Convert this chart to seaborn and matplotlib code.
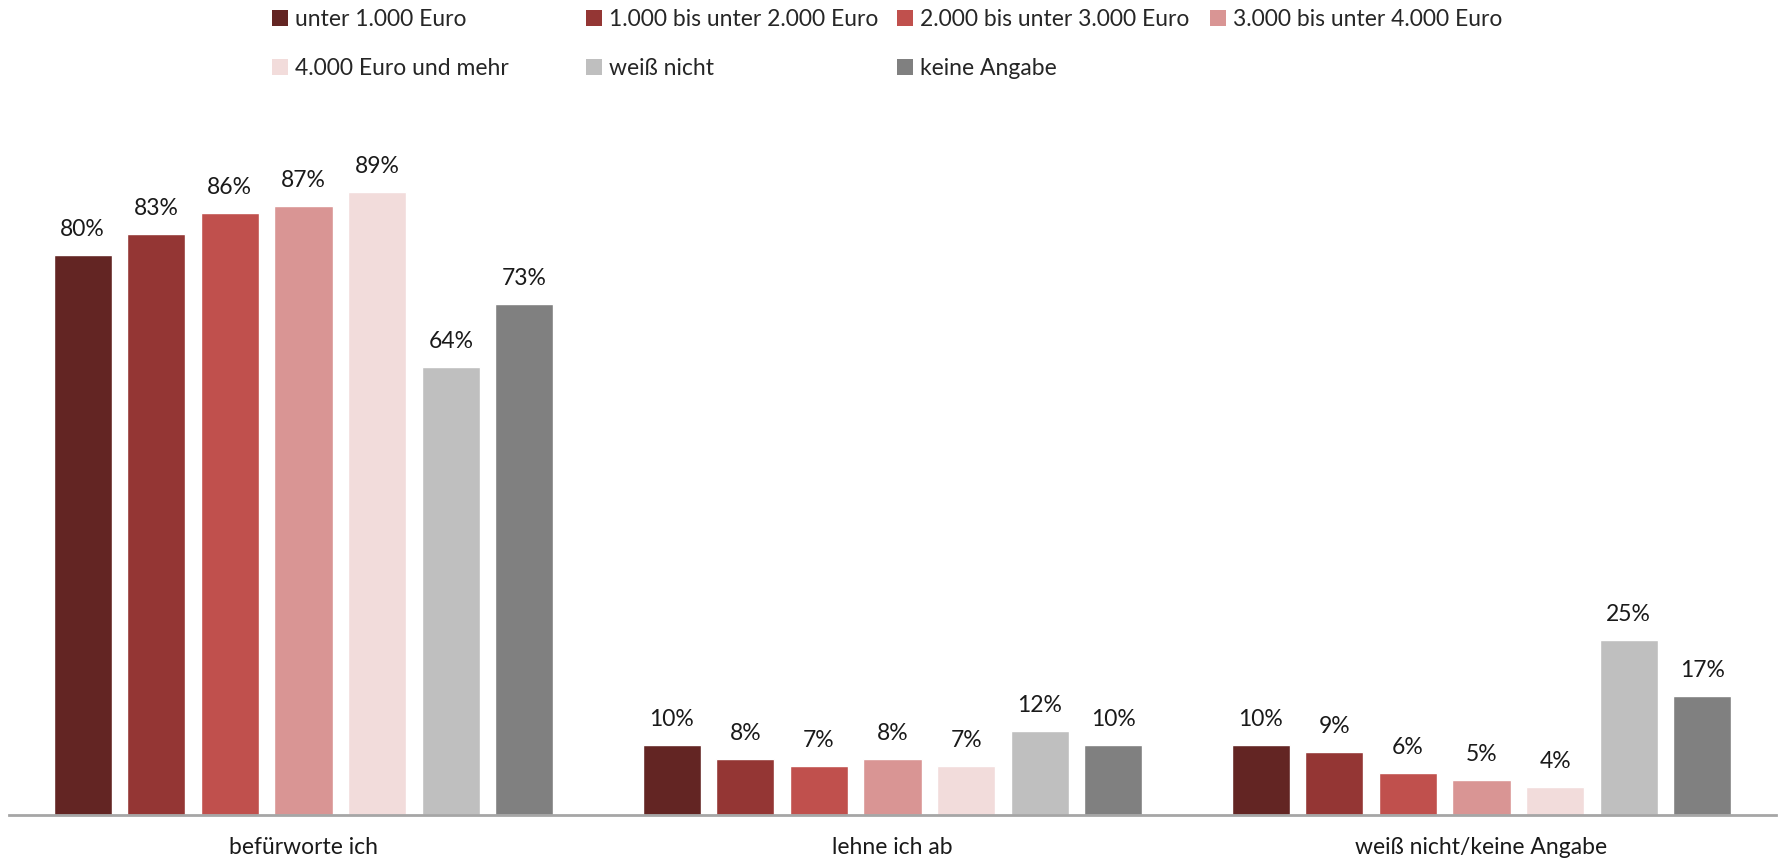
import matplotlib
matplotlib.use("Agg")
import matplotlib.pyplot as plt
import seaborn as sns
import pandas as pd
from matplotlib.patches import Patch

categories = ["befürworte ich", "lehne ich ab", "weiß nicht/keine Angabe"]
income_groups = [
    "unter 1.000 Euro",
    "1.000 bis unter 2.000 Euro",
    "2.000 bis unter 3.000 Euro",
    "3.000 bis unter 4.000 Euro",
    "4.000 Euro und mehr",
    "weiß nicht",
    "keine Angabe",
]
values_under_1000 = [80, 10, 10]
values_1000_2000 = [83, 8, 9]
values_2000_3000 = [86, 7, 6]
values_3000_4000 = [87, 8, 5]
values_4000_plus = [89, 7, 4]
values_dont_know = [64, 12, 25]
values_no_answer = [73, 10, 17]

series = [values_under_1000, values_1000_2000, values_2000_3000, values_3000_4000,
          values_4000_plus, values_dont_know, values_no_answer]
colors = ["#632523", "#943634", "#C0504D", "#D99594", "#F2DCDB", "#BFBFBF", "#808080"]

rows = []
for grp, vals in zip(income_groups, series):
    for cat, v in zip(categories, vals):
        rows.append({"Antwort": cat, "Einkommen": grp, "Anteil": v})
df = pd.DataFrame(rows)

sns.set_theme(style="white")
plt.rcParams["font.family"] = ["Lato", "DejaVu Sans"]

fig = plt.figure(figsize=(17.79, 8.64), dpi=100)
ax = fig.add_axes([9 / 1779, 49 / 864, 1767 / 1779, 700 / 864])

sns.barplot(data=df, x="Antwort", y="Anteil", hue="Einkommen",
            order=categories, hue_order=income_groups, palette=colors,
            width=0.875, gap=0.21, ax=ax, legend=False, saturation=1)

for container in ax.containers:
    ax.bar_label(container, labels=[f"{int(round(b.get_height()))}%" for b in container],
                 padding=11, fontsize=16.5, color="#1a1a1a")

ax.set_ylim(0, 100)
ax.set_xlim(-0.5, 2.5)
ax.set_xlabel("")
ax.set_ylabel("")
ax.set_yticks([])
ax.tick_params(axis="x", length=0, pad=16, labelsize=16.5, labelcolor="#1a1a1a")
for side in ["top", "right", "left"]:
    ax.spines[side].set_visible(False)
ax.spines["bottom"].set_color("#A6A6A6")
ax.spines["bottom"].set_linewidth(2)

# Legend laid out in four equal-width columns, two rows
col_x = [263 / 1779, 577 / 1779, 888 / 1779, 1201 / 1779]
columns = [[0, 4], [1, 5], [2, 6], [3]]
for x0, idxs in zip(col_x, columns):
    handles = [Patch(facecolor=colors[i], edgecolor="none") for i in idxs]
    labels = [income_groups[i] for i in idxs]
    fig.legend(handles, labels, loc="upper left", bbox_to_anchor=(x0, 1.0),
               frameon=False, fontsize=16.5, handlelength=0.7, handleheight=0.7,
               handletextpad=0.3, labelspacing=1.2, borderaxespad=0.0,
               borderpad=0.4)

fig.savefig("out.png", dpi=100, facecolor="white")
